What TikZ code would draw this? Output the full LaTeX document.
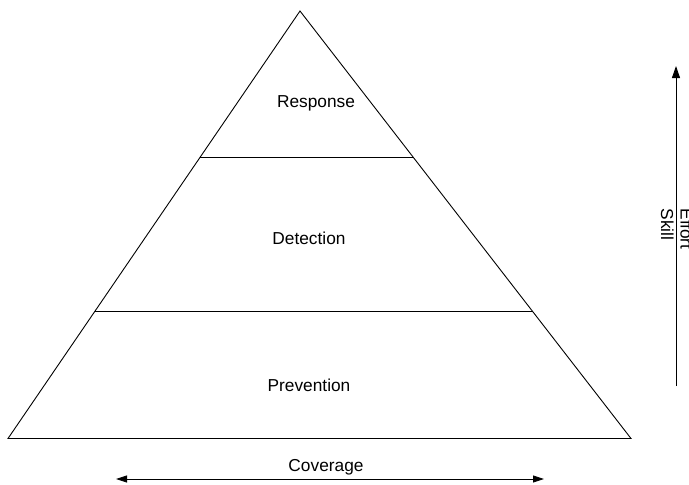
\documentclass[tikz,border=0pt]{standalone}
\usepackage{fontspec}
\setmainfont{Liberation Sans}
\usetikzlibrary{calc,arrows.meta}
\begin{document}
\begin{tikzpicture}[x=1pt,y=-1pt,
  lbl/.style={inner sep=0pt,font=\fontsize{17.3}{19.5}\selectfont},
  edge/.style={line width=0.9pt,black},
  arr/.style={line width=0.9pt,black}]
\useasboundingbox (0,0) rectangle (689,485);
\coordinate (apex) at (300,11);
\coordinate (bl) at (8,438.5);
\coordinate (br) at (631,438.5);
\draw[edge,line join=miter] (apex) -- (bl) -- (br) -- cycle;
\coordinate (l1a) at ($(apex)!0.342!(bl)$);
\coordinate (l1b) at ($(apex)!0.342!(br)$);
\coordinate (l2a) at ($(apex)!0.7026!(bl)$);
\coordinate (l2b) at ($(apex)!0.7026!(br)$);
\draw[edge] (l1a) -- (l1b);
\draw[edge] (l2a) -- (l2b);
\node[lbl] (resp) at (316,103) {Response};
\node[lbl] (det) at (309,238) {Detection};
\node[lbl] (prev) at (309,385) {Prevention};
\coordinate (ab) at (676,386);
\coordinate (at) at (676,66);
\draw[arr,-{Triangle[length=12pt,width=8pt]}] (ab) -- (at);
\node[lbl,rotate=-90,align=left] (eff) at (677,229) {Effort\\Skill};
\coordinate (cl) at (116,479);
\coordinate (cr) at (544,479);
\draw[arr,{Triangle[length=11pt,width=7pt]}-{Triangle[length=11pt,width=7pt]}] (cl) -- (cr);
\node[lbl] (cov) at (326,467) {Coverage};
\end{tikzpicture}
\end{document}
